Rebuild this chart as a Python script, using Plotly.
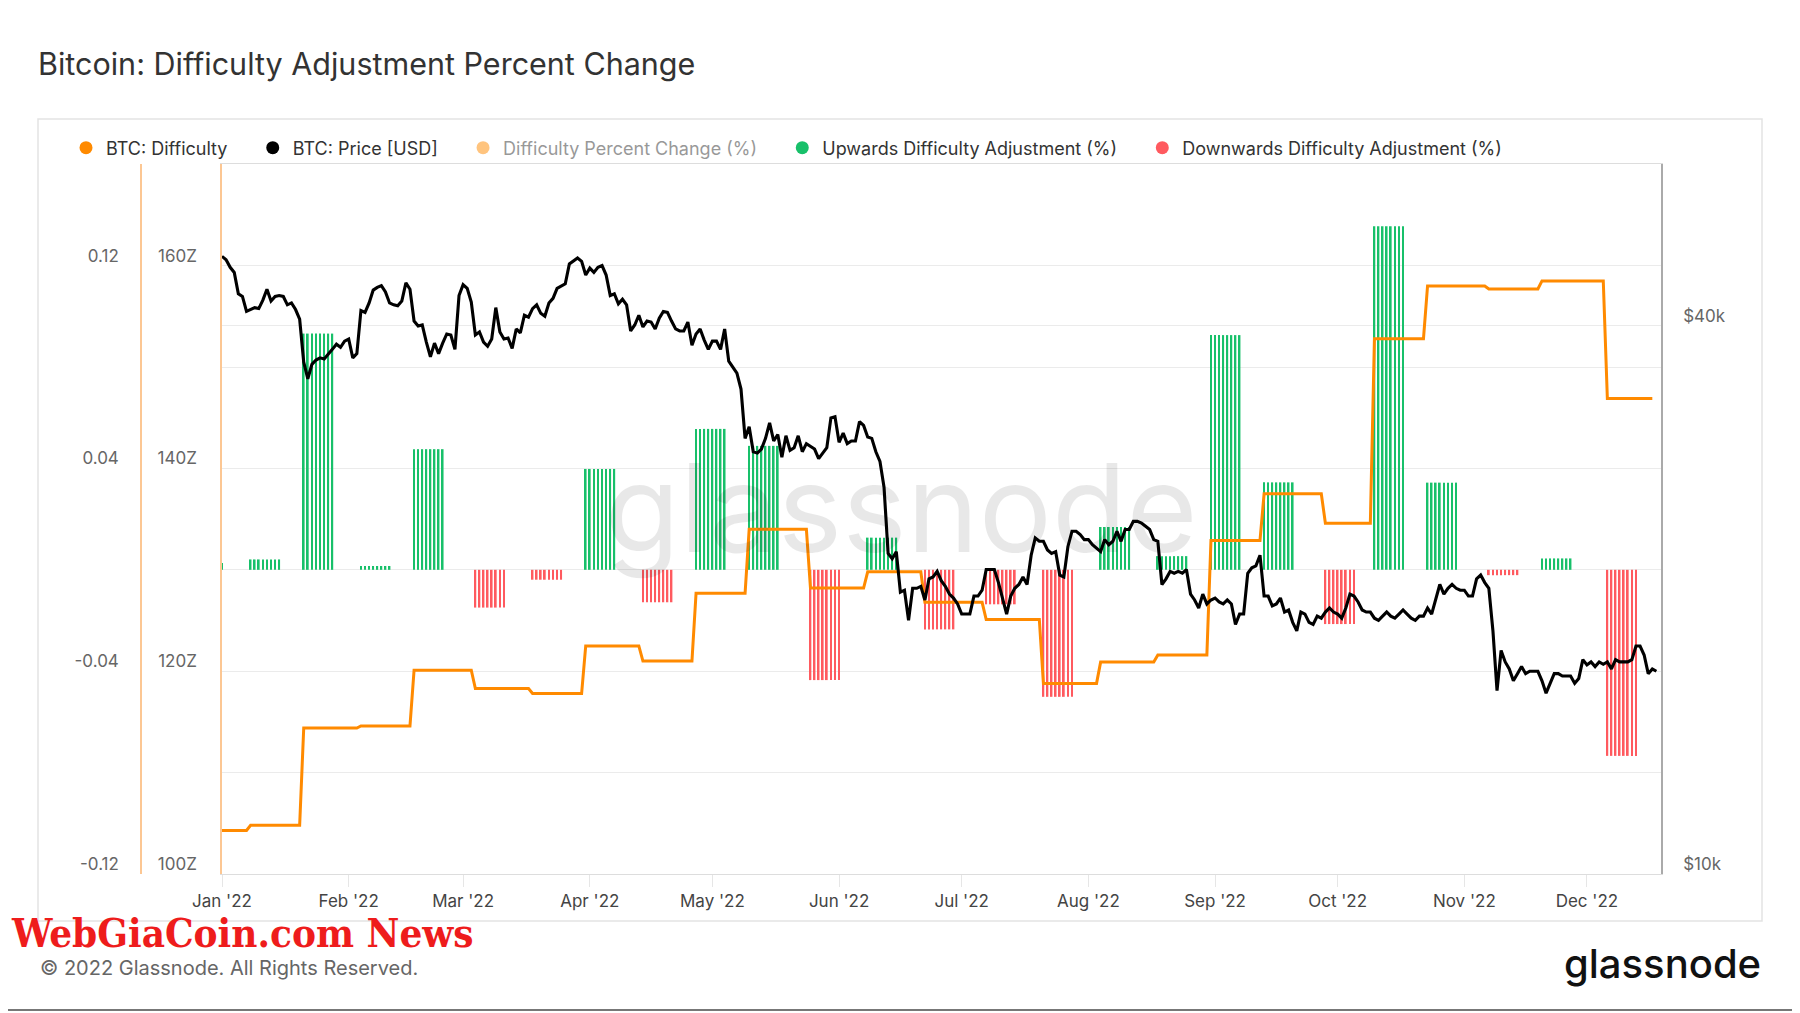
import plotly.graph_objects as go
import pandas as pd

# ---------------- data ----------------
# BTC daily price (thousand USD), 2022-01-01 .. 2022-12-18
price_jan = [47.7, 47.3, 46.4, 45.8, 43.4, 43.1, 41.5, 41.7, 41.9, 41.8, 42.7, 43.9, 42.6, 43.1, 43.2, 43.1,
             42.2, 42.4, 41.7, 40.7, 36.5, 35.0, 36.3, 36.7, 36.9, 36.8, 37.2, 37.7, 38.2, 37.9, 38.5]
price_feb = [38.7, 36.9, 37.3, 41.6, 41.4, 42.4, 43.8, 44.1, 44.3, 43.6, 42.4, 42.2, 42.1, 42.6, 44.6, 43.9,
             40.5, 40.0, 40.1, 38.4, 37.0, 38.3, 37.3, 38.3, 39.2, 39.1, 37.7, 43.2]
price_mar = [44.4, 44.0, 42.5, 39.1, 39.4, 38.4, 38.0, 38.7, 41.9, 39.4, 38.7, 38.8, 37.8, 39.7, 39.3, 41.1,
             40.9, 41.8, 42.2, 41.3, 41.0, 42.4, 42.9, 44.0, 44.3, 44.5, 46.8, 47.1, 47.5, 47.1, 45.5]
price_apr = [46.3, 45.8, 46.4, 46.6, 45.5, 43.2, 43.4, 42.3, 42.8, 42.2, 39.5, 40.1, 41.1, 39.9, 40.5, 40.4,
             39.7, 40.8, 41.5, 41.4, 40.5, 39.7, 39.5, 39.5, 40.4, 38.1, 39.2, 39.7, 38.6, 37.7]
price_may = [38.5, 38.5, 37.7, 39.7, 36.6, 36.0, 35.5, 34.1, 30.1, 31.0, 29.1, 29.0, 29.3, 30.1, 31.3, 29.9,
             30.4, 28.7, 30.3, 29.2, 29.4, 30.3, 29.1, 29.7, 29.5, 29.3, 28.6, 29.0, 29.4, 31.7, 31.8]
price_jun = [29.8, 30.5, 29.7, 29.9, 29.9, 31.4, 31.1, 30.2, 30.1, 29.1, 28.4, 26.6, 22.5, 22.2, 22.6, 20.4,
             20.5, 19.0, 20.6, 20.6, 20.7, 20.0, 21.1, 21.2, 21.5, 21.0, 20.7, 20.3, 20.1, 19.8]
price_jul = [19.3, 19.3, 19.3, 20.2, 20.2, 20.5, 21.6, 21.6, 21.6, 20.9, 20.0, 19.3, 20.2, 20.6, 20.8, 21.2,
             20.8, 22.4, 23.4, 23.2, 23.2, 22.7, 22.5, 22.6, 21.3, 21.2, 22.9, 23.8, 23.8, 23.6, 23.3]
price_aug = [23.3, 23.0, 22.8, 22.6, 23.3, 23.0, 23.2, 23.8, 23.2, 23.9, 23.9, 24.4, 24.4, 24.3, 24.1, 23.9,
             23.3, 23.2, 20.8, 21.1, 21.5, 21.4, 21.5, 21.4, 21.6, 20.3, 20.0, 19.6, 20.3, 19.8, 20.0]
price_sep = [20.1, 19.9, 19.8, 20.0, 19.8, 18.8, 19.3, 19.3, 21.4, 21.7, 21.8, 22.4, 20.2, 20.2, 19.7, 19.8,
             20.1, 19.4, 19.5, 18.9, 18.5, 19.4, 19.3, 18.9, 18.8, 19.2, 19.1, 19.4, 19.6, 19.4]
price_oct = [19.3, 19.1, 19.6, 20.3, 20.2, 19.9, 19.5, 19.4, 19.4, 19.1, 19.0, 19.2, 19.4, 19.2, 19.1, 19.3,
             19.5, 19.3, 19.1, 19.0, 19.2, 19.2, 19.6, 19.3, 20.1, 20.8, 20.3, 20.6, 20.8, 20.6, 20.5]
price_nov = [20.5, 20.2, 20.2, 21.1, 21.3, 20.9, 20.6, 18.5, 15.9, 17.6, 17.1, 16.8, 16.3, 16.6, 16.9, 16.6,
             16.7, 16.7, 16.7, 16.3, 15.8, 16.2, 16.6, 16.6, 16.5, 16.5, 16.5, 16.2, 16.4, 17.2]
price_dec = [16.97, 17.1, 16.9, 17.1, 17.0, 17.1, 16.8, 17.2, 17.1, 17.1, 17.1, 17.2, 17.8, 17.8, 17.4, 16.6,
             16.8, 16.7]

# Difficulty adjustments: date, percent change (fraction), difficulty after adjustment (Z hashes)
adj_dates = ["2021-12-25", "2022-01-08", "2022-01-21", "2022-02-04", "2022-02-17", "2022-03-04",
             "2022-03-18", "2022-03-31", "2022-04-14", "2022-04-27", "2022-05-10", "2022-05-25",
             "2022-06-08", "2022-06-22", "2022-07-07", "2022-07-21", "2022-08-04", "2022-08-18",
             "2022-08-31", "2022-09-13", "2022-09-28", "2022-10-10", "2022-10-23", "2022-11-07",
             "2022-11-20", "2022-12-06"]
adj_pct = [0.0027, 0.0041, 0.0932, 0.0015, 0.0476, -0.0149, -0.0039, 0.0398, -0.0128, 0.0556, 0.0489,
           -0.0435, 0.0127, -0.0235, -0.0136, -0.0501, 0.0169, 0.0054, 0.0926, 0.0345, -0.0214, 0.1355,
           0.0344, -0.0021, 0.0045, -0.0734]
adj_difficulty = [104.3, 104.8, 114.4, 114.6, 120.1, 118.3, 117.8, 122.5, 121.0, 127.7, 134.0, 128.2,
                  129.8, 126.8, 125.1, 118.8, 120.9, 121.6, 132.9, 137.5, 134.6, 152.8, 158.0, 157.7,
                  158.5, 146.9]
difficulty_end = "2022-12-17"
bar_days = 8  # daily bars shown after each adjustment

month_ticks = ["2022-01-01", "2022-02-01", "2022-03-01", "2022-04-01", "2022-05-01", "2022-06-01",
               "2022-07-01", "2022-08-01", "2022-09-01", "2022-10-01", "2022-11-01", "2022-12-01"]
month_labels = ["Jan '22", "Feb '22", "Mar '22", "Apr '22", "May '22", "Jun '22", "Jul '22", "Aug '22",
                "Sep '22", "Oct '22", "Nov '22", "Dec '22"]

# ---------------- build series ----------------
price = [p * 1000 for p in (price_jan + price_feb + price_mar + price_apr + price_may + price_jun +
                            price_jul + price_aug + price_sep + price_oct + price_nov + price_dec)]
price_dates = pd.date_range("2022-01-01", periods=len(price), freq="D")

diff_days = pd.date_range("2022-01-01", difficulty_end, freq="D")
adj_idx = pd.to_datetime(adj_dates)
diff_series = pd.Series(adj_difficulty, index=adj_idx).reindex(adj_idx.union(diff_days)).ffill().reindex(diff_days)

up_x, up_y, dn_x, dn_y = [], [], [], []
for d, p in zip(adj_dates, adj_pct):
    for day in pd.date_range(d, periods=bar_days, freq="D"):
        if p >= 0:
            up_x.append(day); up_y.append(p)
        else:
            dn_x.append(day); dn_y.append(p)

# ---------------- figure ----------------
OFF = 8                      # page body margin in the browser
W, H = 1800 - OFF, 1013 - OFF


def px(xs):
    return (xs - OFF) / W


def py(ys):
    return 1 - (ys - OFF) / H


FONT = "Inter, Noto Sans, sans-serif"
ORANGE = "#ff8a00"
GREEN = "#18c06a"
RED = "#ff5a5f"
AXIS_ORANGE = "#fcc793"
GRID = "#ebebeb"
TICKC = "#666666"
NB = "\u00a0" * 4

bar_w = 0.42 * 86400000

fig = go.Figure()

fig.add_trace(go.Bar(x=up_x, y=up_y, width=bar_w, marker=dict(color=GREEN, line=dict(width=0)),
                     xaxis="x", yaxis="y", showlegend=False, name="Upwards Difficulty Adjustment (%)"))
fig.add_trace(go.Bar(x=dn_x, y=dn_y, width=bar_w, marker=dict(color=RED, line=dict(width=0)),
                     xaxis="x", yaxis="y", showlegend=False, name="Downwards Difficulty Adjustment (%)"))
fig.add_trace(go.Scatter(x=diff_series.index, y=diff_series.values, mode="lines",
                         line=dict(color=ORANGE, width=3), xaxis="x", yaxis="y2",
                         showlegend=False, name="BTC: Difficulty"))
fig.add_trace(go.Scatter(x=price_dates, y=price, mode="lines", line=dict(color="#000000", width=3.1),
                         xaxis="x", yaxis="y3", showlegend=False, name="BTC: Price [USD]"))

# legend entries (dots)
legend_items = [("BTC: Difficulty", ORANGE, True), ("BTC: Price [USD]", "#000000", True),
                ("Difficulty Percent Change (%)", ORANGE, "legendonly"),
                ("Upwards Difficulty Adjustment (%)", GREEN, True),
                ("Downwards Difficulty Adjustment (%)", RED, True)]
for name, col, vis in legend_items:
    fig.add_trace(go.Scatter(x=[None], y=[None], mode="markers", name=name + NB, visible=vis,
                             marker=dict(color=col, size=13), xaxis="x", yaxis="y"))

x0, x1 = px(222), px(1661)
y0, y1 = py(874), py(164)

fig.update_layout(
    width=W, height=H,
    margin=dict(l=0, r=0, t=0, b=0, autoexpand=False),
    paper_bgcolor="white", plot_bgcolor="white",
    font=dict(family=FONT, color="#333"),
    barmode="overlay",
    title=dict(text="Bitcoin: Difficulty Adjustment Percent Change", x=px(38), y=py(64),
               xanchor="left", yanchor="middle", font=dict(family=FONT, size=30.5, color="#333")),
    legend=dict(orientation="h", x=px(66), y=py(148), xanchor="left", yanchor="middle",
                font=dict(family=FONT, size=18, color="#333"), itemwidth=30,
                bgcolor="rgba(0,0,0,0)"),
    xaxis=dict(domain=[x0, x1], anchor="y", type="date", automargin=False,
               range=["2022-01-01", "2022-12-19 03:00"],
               tickvals=month_ticks, ticktext=month_labels,
               showgrid=False, showline=True, linecolor="#dddddd", linewidth=1, mirror=True,
               ticks="outside", ticklen=12, tickcolor="#e6e6e6",
               tickfont=dict(family=FONT, size=17, color="#444"), zeroline=False),
    yaxis=dict(domain=[y0, y1], anchor="free", position=px(141), side="left", automargin=False,
               range=[-0.12, 0.1601], tickvals=[-0.12, -0.04, 0.04, 0.12],
               ticktext=["-0.12", "-0.04", "0.04", "0.12"],
               showgrid=True, gridcolor=GRID, gridwidth=1,
               minor=dict(tickvals=[-0.08, 0, 0.08], showgrid=True, gridcolor=GRID, gridwidth=1, ticks=""),
               zeroline=False, showline=True, linecolor=AXIS_ORANGE, linewidth=1.5,
               ticks="", ticklabelshift=-10, ticklabelstandoff=18,
               tickfont=dict(family=FONT, size=17, color=TICKC)),
    yaxis2=dict(domain=[y0, y1], anchor="x", overlaying="y", side="left", automargin=False,
                range=[100, 170.03], tickvals=[100, 120, 140, 160],
                ticktext=["100Z", "120Z", "140Z", "160Z"], showgrid=False, zeroline=False,
                showline=True, linecolor=AXIS_ORANGE, linewidth=1.5,
                ticks="", ticklabelshift=-10, ticklabelstandoff=20,
                tickfont=dict(family=FONT, size=17, color=TICKC)),
    yaxis3=dict(domain=[y0, y1], anchor="x", overlaying="y", side="right", type="log", automargin=False,
                range=[4, 4.780], tickvals=[10000, 40000], ticktext=["$10k", "$40k"],
                showgrid=True, gridcolor=GRID, zeroline=False,
                showline=True, linecolor="#aaaaaa", linewidth=1.5,
                ticks="", ticklabelshift=-10, ticklabelstandoff=17,
                tickfont=dict(family=FONT, size=17, color=TICKC)),
    shapes=[
        dict(type="rect", xref="paper", yref="paper", x0=px(38), x1=px(1762),
             y0=py(921), y1=py(119), line=dict(color="#e3e3e3", width=1.5), layer="below"),
        dict(type="line", xref="paper", yref="paper", x0=0, x1=1, y0=py(1010), y1=py(1010),
             line=dict(color="#777777", width=2)),
    ],
    annotations=[
        dict(text="glassnode", xref="paper", yref="paper", x=px(901), y=py(508),
             xanchor="center", yanchor="middle", showarrow=False,
             font=dict(family=FONT, size=122, color="rgba(0,0,0,0.09)")),
        dict(text="© 2022 Glassnode. All Rights Reserved.", xref="paper", yref="paper",
             x=px(38), y=py(968), xanchor="left", yanchor="middle", showarrow=False,
             font=dict(family=FONT, size=20, color="#666")),
        dict(text="glassnode", xref="paper", yref="paper", x=px(1763), y=py(963),
             xanchor="right", yanchor="middle", showarrow=False,
             font=dict(family=FONT, size=40, color="#111", weight=500)),
        dict(text="<b>WebGiaCoin.com News</b>", xref="paper", yref="paper", x=px(9), y=py(932),
             xanchor="left", yanchor="middle", showarrow=False,
             font=dict(family="DejaVu Serif Condensed, DejaVu Sans Condensed, sans-serif", size=40,
                       color="#ee1c1c")),
    ],
)

fig.write_html("out.html")
